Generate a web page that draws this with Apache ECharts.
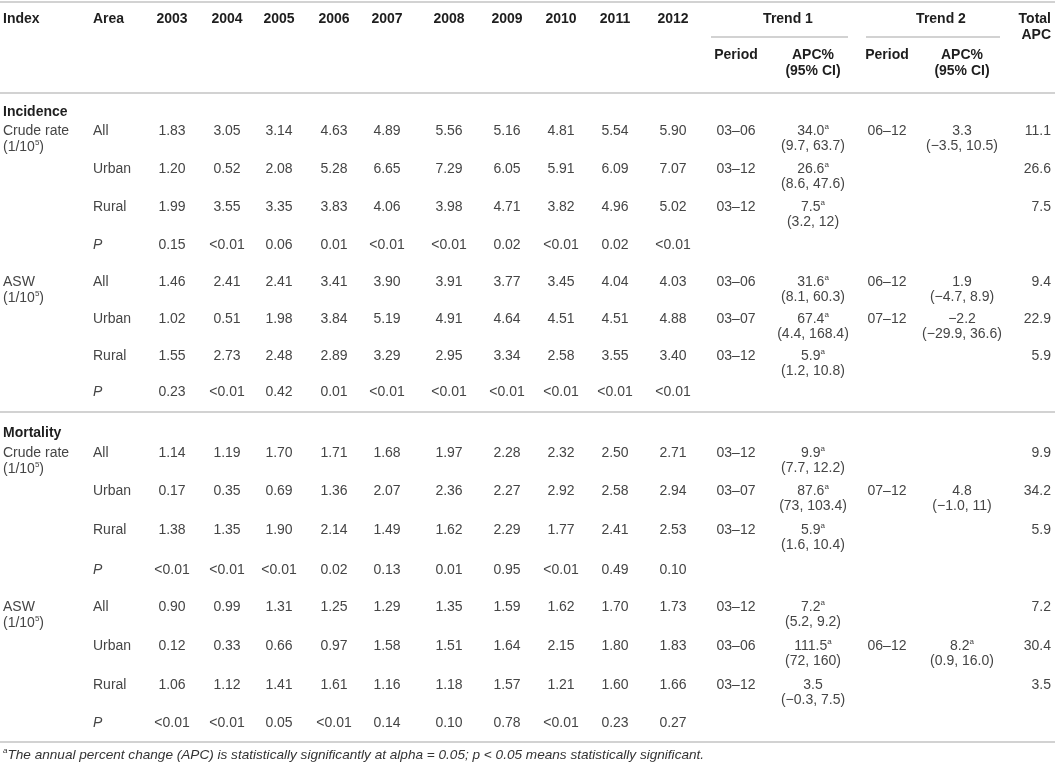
<!DOCTYPE html>
<html lang="en">
  <head>
    <meta charset="UTF-8" />
    <title>Incidence and mortality table</title>
    <script src="https://cdn.jsdelivr.net/npm/echarts@6/dist/echarts.min.js"></script>
    <style>
      html, body { margin: 0; padding: 0; background: #fff; }
      #main { width: 1055px; height: 765px; }
    </style>
  </head>
  <body>
    <div id="main"></div>
    <script>
      // ---- data ----
      var years = ["2003", "2004", "2005", "2006", "2007", "2008", "2009", "2010", "2011", "2012"];
      var areas = ["All", "Urban", "Rural", "P"];
      var indexNames = ["Crude rate", "ASW"];
      var sectionNames = ["Incidence", "Mortality"];

      var incCrudeAll = [1.83, 3.05, 3.14, 4.63, 4.89, 5.56, 5.16, 4.81, 5.54, 5.90];
      var incCrudeUrban = [1.20, 0.52, 2.08, 5.28, 6.65, 7.29, 6.05, 5.91, 6.09, 7.07];
      var incCrudeRural = [1.99, 3.55, 3.35, 3.83, 4.06, 3.98, 4.71, 3.82, 4.96, 5.02];
      var incCrudeP = ["0.15", "<0.01", "0.06", "0.01", "<0.01", "<0.01", "0.02", "<0.01", "0.02", "<0.01"];
      var incAswAll = [1.46, 2.41, 2.41, 3.41, 3.90, 3.91, 3.77, 3.45, 4.04, 4.03];
      var incAswUrban = [1.02, 0.51, 1.98, 3.84, 5.19, 4.91, 4.64, 4.51, 4.51, 4.88];
      var incAswRural = [1.55, 2.73, 2.48, 2.89, 3.29, 2.95, 3.34, 2.58, 3.55, 3.40];
      var incAswP = ["0.23", "<0.01", "0.42", "0.01", "<0.01", "<0.01", "<0.01", "<0.01", "<0.01", "<0.01"];
      var morCrudeAll = [1.14, 1.19, 1.70, 1.71, 1.68, 1.97, 2.28, 2.32, 2.50, 2.71];
      var morCrudeUrban = [0.17, 0.35, 0.69, 1.36, 2.07, 2.36, 2.27, 2.92, 2.58, 2.94];
      var morCrudeRural = [1.38, 1.35, 1.90, 2.14, 1.49, 1.62, 2.29, 1.77, 2.41, 2.53];
      var morCrudeP = ["<0.01", "<0.01", "<0.01", "0.02", "0.13", "0.01", "0.95", "<0.01", "0.49", "0.10"];
      var morAswAll = [0.90, 0.99, 1.31, 1.25, 1.29, 1.35, 1.59, 1.62, 1.70, 1.73];
      var morAswUrban = [0.12, 0.33, 0.66, 0.97, 1.58, 1.51, 1.64, 2.15, 1.80, 1.83];
      var morAswRural = [1.06, 1.12, 1.41, 1.61, 1.16, 1.18, 1.57, 1.21, 1.60, 1.66];
      var morAswP = ["<0.01", "<0.01", "0.05", "<0.01", "0.14", "0.10", "0.78", "<0.01", "0.23", "0.27"];

      // trend columns, one entry per All/Urban/Rural row (top to bottom)
      var trend1Period = ["03–06", "03–12", "03–12", "03–06", "03–07", "03–12", "03–12", "03–07", "03–12", "03–12", "03–06", "03–12"];
      var trend1Apc = [34.0, 26.6, 7.5, 31.6, 67.4, 5.9, 9.9, 87.6, 5.9, 7.2, 111.5, 3.5];
      var trend1Sig = [1, 1, 1, 1, 1, 1, 1, 1, 1, 1, 1, 0];
      var trend1Ci = ["(9.7, 63.7)", "(8.6, 47.6)", "(3.2, 12)", "(8.1, 60.3)", "(4.4, 168.4)", "(1.2, 10.8)",
                      "(7.7, 12.2)", "(73, 103.4)", "(1.6, 10.4)", "(5.2, 9.2)", "(72, 160)", "(−0.3, 7.5)"];
      var trend2Period = ["06–12", "", "", "06–12", "07–12", "", "", "07–12", "", "", "06–12", ""];
      var trend2Apc = [3.3, null, null, 1.9, -2.2, null, null, 4.8, null, null, 8.2, null];
      var trend2Sig = [0, 0, 0, 0, 0, 0, 0, 0, 0, 0, 1, 0];
      var trend2Ci = ["(−3.5, 10.5)", "", "", "(−4.7, 8.9)", "(−29.9, 36.6)", "", "", "(−1.0, 11)", "", "", "(0.9, 16.0)", ""];
      var totalApc = [11.1, 26.6, 7.5, 9.4, 22.9, 5.9, 9.9, 34.2, 5.9, 7.2, 30.4, 3.5];

      var footnote = "The annual percent change (APC) is statistically significantly at alpha = 0.05; p < 0.05 means statistically significant.";

      // ---- layout (hidden axes run in page pixels) ----
      var W = 1055, H = 765;
      var FONT = '"Liberation Sans", Arial, sans-serif';
      var X_INDEX = 3, X_AREA = 93;
      var X_YEARS = [172, 227, 279, 334, 387, 449, 507, 561, 615, 673];
      var X_T1_HEAD = 788, X_T2_HEAD = 941;
      var X_T1_PERIOD = 736, X_T1_APC = 813, X_T2_PERIOD = 887, X_T2_APC = 962, X_TOTAL = 1051;
      var Y_HEAD = 19;
      var sectionLayout = [
        { labelY: 112, rowsY: [131, 169, 207, 245, 282, 319, 356, 392] },
        { labelY: 433, rowsY: [453, 491, 530, 570, 607, 646, 685, 723] }
      ];
      var rules = [
        [0, 2, W, 2], [0, 93, W, 93], [0, 412, W, 412], [0, 742, W, 742],
        [711, 37, 848, 37], [866, 37, 1000, 37]
      ];

      var sections = [
        [[incCrudeAll, incCrudeUrban, incCrudeRural, incCrudeP], [incAswAll, incAswUrban, incAswRural, incAswP]],
        [[morCrudeAll, morCrudeUrban, morCrudeRural, morCrudeP], [morAswAll, morAswUrban, morAswRural, morAswP]]
      ];

      var cells = [];
      function cell(x, y, text, style, align) {
        cells.push({ x: x, y: y, text: text, style: style, align: align || "center" });
      }
      function apc(v, sig) {
        var s = v.toFixed(1).replace("-", "−");
        return sig ? s + "{s|a}" : s;
      }

      // header
      cell(X_INDEX, Y_HEAD, "Index", "head", "left");
      cell(X_AREA, Y_HEAD, "Area", "head", "left");
      years.forEach(function (yr, i) { cell(X_YEARS[i], Y_HEAD, yr, "head"); });
      cell(X_T1_HEAD, Y_HEAD, "Trend 1", "head");
      cell(X_T2_HEAD, Y_HEAD, "Trend 2", "head");
      cell(X_TOTAL, Y_HEAD, "Total", "head", "right");
      cell(X_TOTAL, Y_HEAD + 16, "APC", "head", "right");
      [[X_T1_PERIOD, X_T1_APC], [X_T2_PERIOD, X_T2_APC]].forEach(function (p) {
        cell(p[0], 55, "Period", "head");
        cell(p[1], 55, "APC%", "head");
        cell(p[1], 71, "(95% CI)", "head");
      });

      // body
      var t = 0;
      sections.forEach(function (blocks, s) {
        var lay = sectionLayout[s];
        cell(X_INDEX, lay.labelY, sectionNames[s], "head", "left");
        blocks.forEach(function (block, b) {
          var y0 = lay.rowsY[b * 4];
          cell(X_INDEX, y0, indexNames[b], "body", "left");
          cell(X_INDEX, y0 + 16, "(1/10{s|5})", "body", "left");
          block.forEach(function (vals, r) {
            var y = lay.rowsY[b * 4 + r];
            cell(X_AREA, y, areas[r], r === 3 ? "ital" : "body", "left");
            vals.forEach(function (v, i) {
              cell(X_YEARS[i], y, typeof v === "number" ? v.toFixed(2) : v, "body");
            });
            if (r < 3) {
              cell(X_T1_PERIOD, y, trend1Period[t], "body");
              cell(X_T1_APC, y, apc(trend1Apc[t], trend1Sig[t]), "body");
              cell(X_T1_APC, y + 15, trend1Ci[t], "body");
              if (trend2Apc[t] != null) {
                cell(X_T2_PERIOD, y, trend2Period[t], "body");
                cell(X_T2_APC, y, apc(trend2Apc[t], trend2Sig[t]), "body");
                cell(X_T2_APC, y + 15, trend2Ci[t], "body");
              }
              cell(X_TOTAL, y, totalApc[t].toFixed(1), "body", "right");
              t++;
            }
          });
        });
      });

      cell(X_INDEX, 755, "{s|a}" + footnote, "note", "left");

      var styles = {
        head: { fontSize: 14, fontWeight: "bold", fontStyle: "normal", fill: "#1e1e1e" },
        body: { fontSize: 14, fontWeight: "normal", fontStyle: "normal", fill: "#454545" },
        ital: { fontSize: 14, fontWeight: "normal", fontStyle: "italic", fill: "#454545" },
        note: { fontSize: 13.6, fontWeight: "normal", fontStyle: "italic", fill: "#333333" }
      };

      var myChart = echarts.init(document.getElementById("main"));

      var option = {
        animation: false,
        grid: { left: 0, right: 0, top: 0, bottom: 0 },
        xAxis: { type: "value", min: 0, max: W, show: false },
        yAxis: { type: "value", min: 0, max: H, inverse: true, show: false },
        series: [
          {
            // table rules
            type: "custom",
            silent: true,
            data: rules,
            renderItem: function (params, api) {
              var a = api.coord([api.value(0), api.value(1)]);
              var b = api.coord([api.value(2), api.value(3)]);
              return {
                type: "line",
                shape: { x1: a[0], y1: a[1], x2: b[0], y2: b[1] },
                style: { stroke: "#c3c3c3", lineWidth: 1.6 }
              };
            }
          },
          {
            // table cells
            type: "custom",
            silent: true,
            data: cells.map(function (c) { return [c.x, c.y]; }),
            renderItem: function (params, api) {
              var c = cells[params.dataIndex];
              var st = styles[c.style];
              var p = api.coord([api.value(0), api.value(1)]);
              return {
                type: "text",
                x: p[0],
                y: p[1],
                style: {
                  text: c.text,
                  fill: st.fill,
                  fontFamily: FONT,
                  fontSize: st.fontSize,
                  fontWeight: st.fontWeight,
                  fontStyle: st.fontStyle,
                  lineHeight: 16,
                  align: c.align,
                  verticalAlign: "middle",
                  rich: {
                    s: {
                      fontFamily: FONT,
                      fontSize: 8,
                      fontStyle: st.fontStyle,
                      fill: st.fill,
                      lineHeight: 9,
                      verticalAlign: "top"
                    }
                  }
                }
              };
            }
          }
        ]
      };

      myChart.setOption(option);
    </script>
  </body>
</html>
